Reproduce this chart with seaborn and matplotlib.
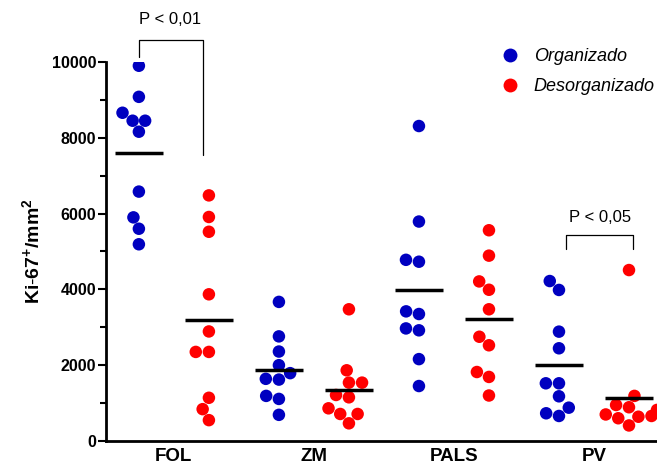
import numpy as np
import pandas as pd
import matplotlib
matplotlib.use("Agg")
import matplotlib.pyplot as plt
from matplotlib.lines import Line2D
import seaborn as sns

regions = ["FOL", "ZM", "PALS", "PV"]
groups = ["Organizado", "Desorganizado"]
colors = {"Organizado": "#0000C0", "Desorganizado": "#FF0000"}

fol_org = [9900, 9080, 8660, 8450, 8450, 8160, 6580, 5900, 5600, 5190]
fol_des = [6480, 5910, 5520, 3870, 2890, 2350, 2350, 1140, 840, 550]
zm_org = [3670, 2760, 2360, 2000, 1790, 1640, 1620, 1190, 1110, 690]
zm_des = [3475, 1865, 1540, 1540, 1214, 1152, 862, 713, 713, 466]
pals_org = [8310, 5790, 4780, 4730, 3420, 3350, 2970, 2920, 2160, 1450]
pals_des = [5560, 4890, 4210, 3990, 3475, 2750, 2525, 1820, 1690, 1200]
pv_org = [4220, 3985, 2885, 2446, 1522, 1522, 1179, 879, 731, 660]
pv_des = [4510, 1190, 950, 890, 820, 700, 660, 640, 600, 410]

series = {
    ("FOL", "Organizado"): fol_org, ("FOL", "Desorganizado"): fol_des,
    ("ZM", "Organizado"): zm_org, ("ZM", "Desorganizado"): zm_des,
    ("PALS", "Organizado"): pals_org, ("PALS", "Desorganizado"): pals_des,
    ("PV", "Organizado"): pv_org, ("PV", "Desorganizado"): pv_des,
}

rows = []
order = []
for r in regions:
    for g in groups:
        key = f"{r}-{g}"
        order.append(key)
        for v in series[(r, g)]:
            rows.append({"slot": key, "region": r, "group": g, "value": v})
df = pd.DataFrame(rows)

sns.set_style("ticks", rc={"axes.edgecolor": "black", "text.color": "black",
                           "xtick.color": "black", "ytick.color": "black",
                           "axes.labelcolor": "black"})
plt.rcParams["font.family"] = ["Liberation Sans", "DejaVu Sans"]
plt.rcParams["mathtext.fontset"] = "custom"
plt.rcParams["mathtext.rm"] = "Liberation Sans"
plt.rcParams["mathtext.bf"] = "Liberation Sans:bold"

fig = plt.figure(figsize=(6.57, 4.67), dpi=100)
ax = fig.add_axes([0.1613, 0.0557, 0.8387, 0.8116])

sns.swarmplot(data=df, x="slot", y="value", hue="group", order=order,
              hue_order=groups, palette=colors, size=9, linewidth=0,
              ax=ax, legend=False)

means = df.groupby("slot")["value"].mean()
for i, key in enumerate(order):
    ax.hlines(means[key], i - 0.345, i + 0.345, color="black", lw=2.5, zorder=5)

ax.set_xlim(-0.47, 7.4)
ax.set_ylim(0, 10000)
ax.set_yticks(np.arange(0, 10001, 2000))
ax.set_yticks(np.arange(1000, 10000, 2000), minor=True)
ax.set_xticks([0.5, 2.5, 4.5, 6.5])
ax.set_xticklabels(regions, fontsize=13.5, fontweight="bold")
ax.tick_params(axis="x", length=0, pad=5)
ax.tick_params(axis="y", which="major", length=6, width=1.5, labelsize=11.5, pad=1)
ax.tick_params(axis="y", which="minor", length=4, width=1.5)
for lab in ax.get_yticklabels():
    lab.set_fontweight("bold")
ax.set_xlabel("")
ax.set_ylabel(r"$\mathbf{Ki\text{-}67^{+}/mm^{2}}$", fontsize=14, labelpad=6)
for s in ["top", "right"]:
    ax.spines[s].set_visible(False)
for s in ["left", "bottom"]:
    ax.spines[s].set_linewidth(2)

# significance brackets
ax.plot([0, 0, 0.914, 0.914], [10134, 10583, 10583, 7548], color="black",
        lw=0.9, clip_on=False)
ax.text(0.45, 11110, "P < 0,01", ha="center", va="center", fontsize=12)
ax.plot([6.1, 6.1, 7.06, 7.06], [5067, 5436, 5436, 5067], color="black",
        lw=0.9, clip_on=False)
ax.text(6.58, 5885, "P < 0,05", ha="center", va="center", fontsize=12)

handles = [Line2D([0], [0], marker="o", ls="none", markersize=10,
                  markerfacecolor=colors[g], markeredgewidth=0) for g in groups]
ax.legend(handles, groups, loc="upper right", bbox_to_anchor=(1.025, 1.08),
          frameon=False, handletextpad=0.3, labelspacing=0.75,
          prop={"style": "italic", "size": 13})

fig.savefig("out.png", dpi=100)
